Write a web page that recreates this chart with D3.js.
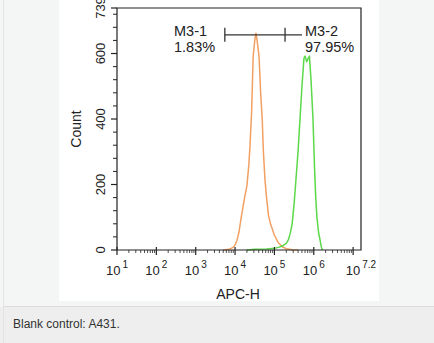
<!DOCTYPE html>
<html>
<head>
<meta charset="utf-8">
<script src="https://cdn.jsdelivr.net/npm/d3@7"></script>
<style>
  html, body { margin: 0; padding: 0; background: #f4f5f5; }
  svg { display: block; }
  text { font-family: "Liberation Sans", Arial, Helvetica, sans-serif; fill: #222; }
</style>
</head>
<body>
<svg id="chart" width="434" height="343"></svg>
<script>
// ---- data (x values are log10 of APC-H) ----
const orangeLogX  = [3.7, 3.85, 3.95, 4.0, 4.05, 4.1, 4.15, 4.2, 4.25, 4.3, 4.35, 4.38, 4.42, 4.46, 4.5, 4.53, 4.56, 4.61, 4.65, 4.69, 4.72, 4.76, 4.8, 4.85, 4.9, 5.0, 5.1, 5.2, 5.3, 5.45, 5.6];
const orangeCount = [0,   2,    8,    15,  30,   55,  95,   130, 165,  195, 260,  320,  420,  590,  640, 662,  640,  590,  480,  400,  300,  215,  160, 105,  80,  45,  22,  10,  4,   1,    0];
const greenLogX   = [4.3, 4.5, 4.8, 5.0, 5.1, 5.2, 5.3, 5.35, 5.4, 5.45, 5.5, 5.55, 5.6, 5.65, 5.7, 5.75, 5.78, 5.82, 5.86, 5.89, 5.93, 5.98, 6.02, 6.05, 6.08, 6.12, 6.16, 6.19, 6.22];
const greenCount  = [0,   2,   3,   5,   8,   12,  20,  30,   50,  80,   140, 220,  300, 400,  500, 585,  592,  575,  585,  592,  520,  400,  250,  160,  100,  55,   30,   10,   0];
const xMajorExp   = [1, 2, 3, 4, 5, 6, 7];
const xLabelExp   = ["1", "2", "3", "4", "5", "6", "7.2"];
const xLabelPos   = [1, 2, 3, 4, 5, 6, 7.2];
const yMajor      = [0, 200, 400, 600, 739];
const gateM31     = [3.74, 5.27];
const gateM32     = [5.27, 5.70];
const gateLevel   = 657;
const gateNames   = ["M3-1", "M3-2"];
const gatePcts    = ["1.83%", "97.95%"];
const caption     = "Blank control: A431.";

const svg = d3.select("#chart");

// page panel
svg.append("rect").attr("x", 0).attr("y", 0).attr("width", 434).attr("height", 307).attr("fill", "#f4f5f5");
svg.append("rect").attr("x", 0).attr("y", 307).attr("width", 434).attr("height", 36).attr("fill", "#eeeeee");
svg.append("line").attr("x1", 3).attr("x2", 434).attr("y1", 306.5).attr("y2", 306.5).attr("stroke", "#dcdcdc");
svg.append("line").attr("x1", 3.5).attr("x2", 3.5).attr("y1", 0).attr("y2", 343).attr("stroke", "#e3e3e3");
svg.append("rect").attr("x", 59).attr("y", 0).attr("width", 320).attr("height", 301).attr("fill", "#ffffff");

svg.append("text").attr("x", 13).attr("y", 328).attr("font-size", 12).style("fill", "#333").text(caption);

// scales
const x = d3.scaleLog().domain([10, Math.pow(10, 7.2)]).range([117, 361]);
const y = d3.scaleLinear().domain([0, 739]).range([250, 8]);
const X = e => x(Math.pow(10, e));

const g = svg.append("g");

// histograms
const line = d3.line().x(d => X(d[0])).y(d => y(d[1]));
g.append("path").datum(d3.zip(orangeLogX, orangeCount)).attr("d", line)
  .attr("fill", "none").attr("stroke", "#f2a062").attr("stroke-width", 1.5).attr("stroke-linejoin", "round");
g.append("path").datum(d3.zip(greenLogX, greenCount)).attr("d", line)
  .attr("fill", "none").attr("stroke", "#5cd94a").attr("stroke-width", 1.5).attr("stroke-linejoin", "round");

// frame
const axisColor = "#222";
g.append("path")
  .attr("d", `M${x.range()[0]},${y(0)}V${y(739)}H${x.range()[1]}V${y(0)}Z`)
  .attr("fill", "none").attr("stroke", axisColor).attr("stroke-width", 1.2);

// y ticks
const yMinor = d3.range(0, 739, 40).filter(v => v % 200 !== 0);
yMinor.forEach(v => g.append("line").attr("x1", 113).attr("x2", 117).attr("y1", y(v)).attr("y2", y(v)).attr("stroke", axisColor));
yMajor.forEach(v => g.append("line").attr("x1", 111).attr("x2", 117).attr("y1", y(v)).attr("y2", y(v)).attr("stroke", axisColor).attr("stroke-width", 1.2));
yMajor.forEach(v => g.append("text")
  .attr("transform", `translate(105,${y(v)}) rotate(-90)`)
  .attr("text-anchor", "middle").attr("font-size", 13).text(v));
g.append("text").attr("transform", `translate(81,129) rotate(-90)`)
  .attr("text-anchor", "middle").attr("font-size", 14).text("Count");

// x ticks
const xMinor = [];
xMajorExp.slice(0, -1).forEach(e => { for (let k = 2; k <= 9; k++) xMinor.push(k * Math.pow(10, e)); });
xMinor.forEach(v => g.append("line").attr("x1", x(v)).attr("x2", x(v)).attr("y1", 250).attr("y2", 253).attr("stroke", axisColor).attr("stroke-width", 0.8));
xMajorExp.forEach(e => g.append("line").attr("x1", X(e)).attr("x2", X(e)).attr("y1", 247).attr("y2", 255).attr("stroke", axisColor).attr("stroke-width", 1.2));
xLabelPos.forEach((p, i) => {
  const t = g.append("text").attr("x", X(p)).attr("y", 275).attr("text-anchor", "middle").attr("font-size", 13);
  t.append("tspan").text("10");
  t.append("tspan").attr("dx", 2).attr("dy", -7).attr("font-size", 10).text(xLabelExp[i]);
});
g.append("text").attr("x", 238).attr("y", 299).attr("text-anchor", "middle").attr("font-size", 14).text("APC-H");

// gates
const gy = y(gateLevel);
g.append("line").attr("x1", X(gateM31[0])).attr("x2", X(gateM32[1])).attr("y1", gy).attr("y2", gy).attr("stroke", "#333").attr("stroke-width", 1.3);
[gateM31[0], gateM31[1]].forEach(e => g.append("line").attr("x1", X(e)).attr("x2", X(e)).attr("y1", gy - 7).attr("y2", gy + 7).attr("stroke", "#333").attr("stroke-width", 1.3));
const labX = [174, 305];
gateNames.forEach((n, i) => {
  g.append("text").attr("x", labX[i]).attr("y", 35.5).attr("font-size", 14.5).text(n);
  g.append("text").attr("x", labX[i]).attr("y", 52).attr("font-size", 14.5).text(gatePcts[i]);
});
</script>
</body>
</html>
